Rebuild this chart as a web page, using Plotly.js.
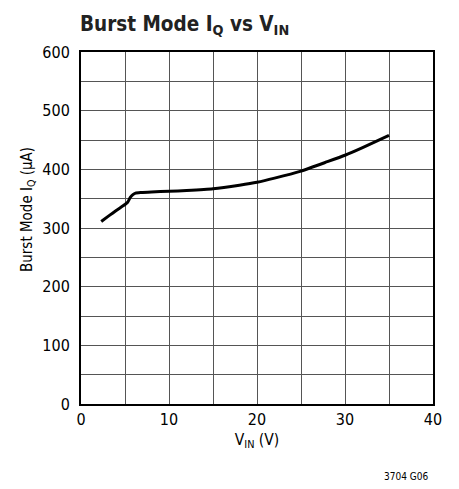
<!DOCTYPE html>
<html><head><meta charset="utf-8">
<script src="https://cdn.plot.ly/plotly-3.0.1.min.js"></script>
<style>html,body{margin:0;padding:0;background:#fff}</style>
</head><body><div id="chart" style="width:459px;height:489px"></div>
<script>
const vin = [2.3, 3, 4, 5, 5.3, 5.6, 5.9, 6.2, 6.8, 8, 10, 12, 15, 18, 20, 22, 25, 28, 30, 32, 35];
const iq  = [311, 319, 330, 340, 344, 352, 357, 359.5, 360.5, 361.5, 362.5, 364, 367, 373, 378, 385, 397, 413, 424, 437, 458];
const xTicks = [0, 10, 20, 30, 40];
const yTicks = [0, 100, 200, 300, 400, 500, 600];
const F = '"DejaVu Sans Condensed", "Liberation Sans Narrow", "Arial Narrow", sans-serif';

const trace = {x: vin, y: iq, type: 'scatter', mode: 'lines',
  line: {color: '#000', width: 3, shape: 'spline', smoothing: 0.45}, hoverinfo: 'skip'};

const layout = {
  width: 459, height: 489,
  margin: {l: 81, r: 26, t: 52, b: 85},
  paper_bgcolor: '#fff', plot_bgcolor: '#fff',
  showlegend: false,
  font: {family: F, color: '#000', size: 16},
  title: {text: '<b>Burst Mode I<sub>Q</sub> vs V<sub>IN</sub></b>', font: {family: F, size: 20.5, color: '#222'},
          x: 80/459, xanchor: 'left', xref: 'container', y: 1 - 31/489, yanchor: 'bottom', yref: 'container'},
  xaxis: {range: [0, 40], tickvals: xTicks,
          showgrid: true, gridcolor: '#555', gridwidth: 1,
          minor: {dtick: 5, showgrid: true, gridcolor: '#555', gridwidth: 1, ticks: ''},
          showline: true, linecolor: '#000', linewidth: 2, mirror: true,
          ticks: '', zeroline: false, fixedrange: true,
          tickfont: {family: F, size: 16, color: '#000'},
          title: {text: 'V<sub>IN</sub> (V)', font: {family: F, size: 15.5, color: '#000'}, standoff: 6}},
  yaxis: {range: [0, 600], tickvals: yTicks,
          showgrid: true, gridcolor: '#555', gridwidth: 1,
          minor: {dtick: 50, showgrid: true, gridcolor: '#555', gridwidth: 1, ticks: ''},
          showline: true, linecolor: '#000', linewidth: 2, mirror: true,
          ticks: 'outside', ticklen: 6, tickcolor: 'rgba(0,0,0,0)', zeroline: false, fixedrange: true,
          tickfont: {family: F, size: 16, color: '#000'}},
  annotations: [
    {text: 'Burst Mode I<sub>Q</sub> (µA)', xref: 'paper', yref: 'paper', x: (27 - 81)/352, y: (404 - 210)/352,
     xanchor: 'center', yanchor: 'middle', textangle: -90, showarrow: false,
     font: {family: F, size: 15, color: '#000'}},
    {text: '3704 G06', xref: 'paper', yref: 'paper', x: 1 - 3/352, y: -72/352,
     xanchor: 'right', yanchor: 'middle', showarrow: false,
     font: {family: F, size: 10, color: '#000'}}]
};
Plotly.newPlot('chart', [trace], layout, {displayModeBar: false, staticPlot: true});
</script></body></html>
